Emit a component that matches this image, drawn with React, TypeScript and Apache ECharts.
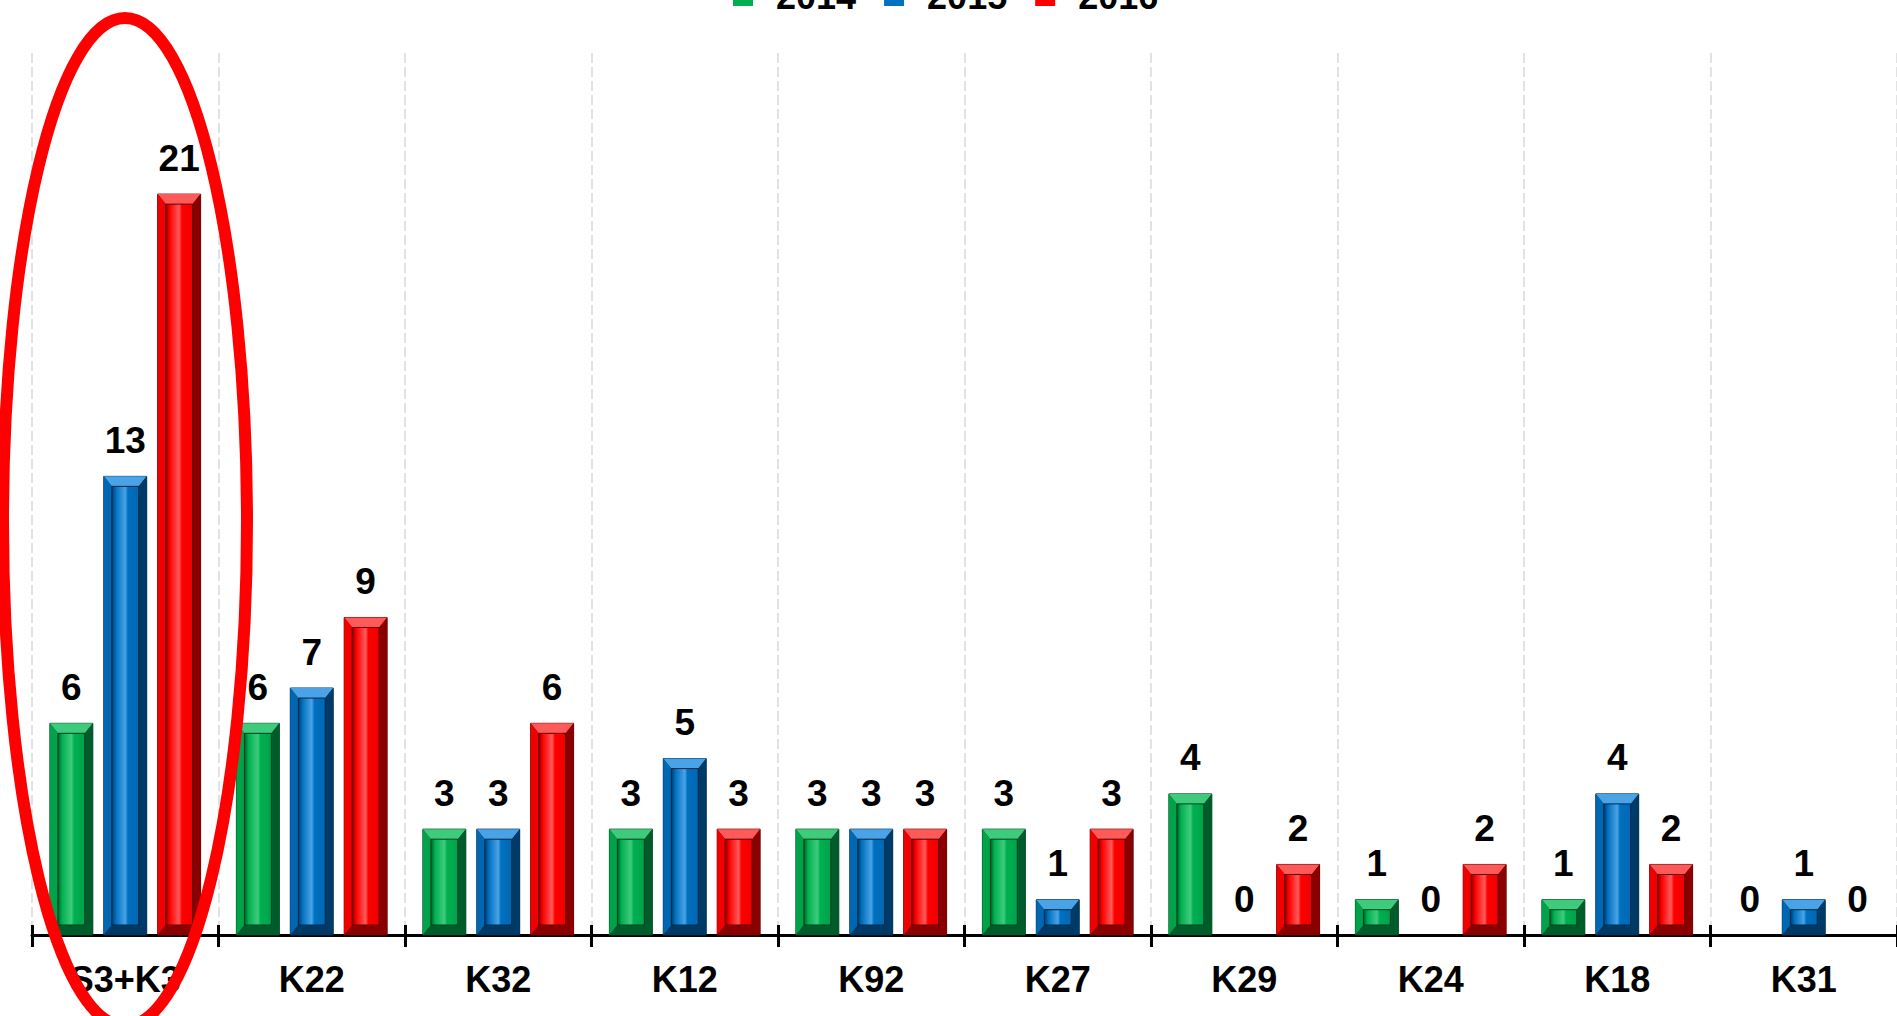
import React, { useEffect, useRef } from "react";
import * as echarts from "echarts";

const categories = ["S3+K3", "K22", "K32", "K12", "K92", "K27", "K29", "K24", "K18", "K31"];
const seriesNames = ["2014", "2015", "2016"];
const values2014 = [6, 6, 3, 3, 3, 3, 4, 1, 1, 0];
const values2015 = [13, 7, 3, 5, 3, 1, 0, 0, 4, 1];
const values2016 = [21, 9, 6, 3, 3, 3, 2, 2, 2, 0];

const palettes = [
  { main: "#00B050", light: "#3FCB7C", side: "#00A24A", dark: "#005C2A", line: "#00401D" },
  { main: "#0070C0", light: "#4AA3E6", side: "#0068B3", dark: "#003A66", line: "#002A4D" },
  { main: "#FF0000", light: "#FF5A5A", side: "#F00000", dark: "#8A0000", line: "#600000" },
];

const FONT = '"Liberation Sans", Arial, sans-serif';

function makeRender(i: number) {
  const p = palettes[i];
  return (params: any, api: any) => {
    const idx = api.value(0);
    const v = api.value(1);
    const top = api.coord([idx, v]);
    const base = api.coord([idx, 0]);
    const band = api.size([1, 0])[0];
    const bw = band * 0.23;
    const gap = band * 0.059;
    const cx = top[0] + (i - 1) * (bw + gap);
    const x0 = cx - bw / 2;
    const x1 = cx + bw / 2;
    const y0 = top[1];
    const y1 = base[1];
    const h = y1 - y0;
    const children: any[] = [];
    if (h > 0.5) {
      const b = Math.min(8, bw / 5);
      const bt = Math.min(10, h / 3);
      children.push({
        type: "rect",
        shape: { x: x0, y: y0, width: bw, height: h },
        style: { fill: p.dark, stroke: p.line, lineWidth: 1 },
      });
      children.push({
        type: "polygon",
        shape: { points: [[x0, y0], [x1, y0], [x1 - b, y0 + bt], [x0 + b, y0 + bt]] },
        style: { fill: p.light },
      });
      children.push({
        type: "polygon",
        shape: { points: [[x0, y0], [x0 + b, y0 + bt], [x0 + b, y1 - bt], [x0, y1]] },
        style: { fill: p.side },
      });
      children.push({
        type: "polygon",
        shape: { points: [[x1, y0], [x1, y1], [x1 - b, y1 - bt], [x1 - b, y0 + bt]] },
        style: { fill: p.dark },
      });
      children.push({
        type: "polygon",
        shape: { points: [[x0, y1], [x0 + b, y1 - bt], [x1 - b, y1 - bt], [x1, y1]] },
        style: { fill: p.dark, opacity: 0.85 },
      });
      children.push({
        type: "rect",
        shape: { x: x0 + b, y: y0 + bt, width: bw - 2 * b, height: Math.max(0, h - 2 * bt) },
        style: {
          fill: new echarts.graphic.LinearGradient(0, 0, 1, 0, [
            { offset: 0, color: p.dark },
            { offset: 0.15, color: p.main },
            { offset: 0.5, color: p.light },
            { offset: 0.6, color: p.main },
            { offset: 1, color: p.side },
          ]),
          stroke: p.line,
          lineWidth: 1,
        },
      });
    }
    children.push({
      type: "text",
      style: {
        text: String(v),
        x: cx,
        y: y0 - 36,
        align: "center",
        verticalAlign: "middle",
        fontSize: 37,
        fontWeight: "bold",
        fontFamily: FONT,
        fill: "#000",
      },
    });
    return { type: "group", children };
  };
}

export default function App() {
  const ref = useRef<HTMLDivElement>(null);
  useEffect(() => {
    if (!ref.current) return;
    const chart = echarts.init(ref.current, undefined, { renderer: "svg" });
    const allValues = [values2014, values2015, values2016];
    const option: any = {
      animation: false,
      backgroundColor: "#ffffff",
      legend: {
        data: seriesNames,
        left: 728,
        top: -27,
        icon: "rect",
        itemWidth: 20,
        itemHeight: 20,
        itemGap: 28,
        textStyle: {
          fontSize: 36,
          fontWeight: "bold",
          fontFamily: FONT,
          color: "#000",
          padding: [0, 0, 0, 18],
        },
      },
      grid: { left: 32, right: 0, top: 53, bottom: 81, containLabel: false },
      xAxis: [
        {
          type: "category",
          data: categories,
          position: "bottom",
          axisLine: { show: true, lineStyle: { color: "#000", width: 3 } },
          axisTick: { show: true, length: 12, lineStyle: { color: "#000", width: 3 } },
          axisLabel: {
            margin: 26,
            fontSize: 36,
            fontWeight: "bold",
            fontFamily: FONT,
            color: "#000",
            interval: 0,
          },
          splitLine: {
            show: true,
            lineStyle: { color: "#e2e2e2", width: 2, type: [10, 4] },
          },
        },
        {
          type: "category",
          data: categories,
          position: "bottom",
          axisLine: { show: false },
          axisTick: { show: true, inside: true, length: 10, lineStyle: { color: "#000", width: 3 } },
          axisLabel: { show: false },
          splitLine: { show: false },
        },
      ],
      yAxis: {
        type: "value",
        min: 0,
        max: 25,
        show: false,
        splitLine: { show: false },
      },
      series: seriesNames.map((name, i) => ({
        name,
        type: "custom",
        xAxisIndex: 0,
        itemStyle: { color: palettes[i].main },
        renderItem: makeRender(i),
        data: allValues[i].map((v, k) => [k, v]),
        clip: false,
      })),
      graphic: [
        {
          type: "ellipse",
          shape: { cx: 125, cy: 522, rx: 122, ry: 504 },
          style: { fill: "none", stroke: "#ff0000", lineWidth: 12 },
          z: 100,
        },
      ],
    };
    chart.setOption(option);
    return () => chart.dispose();
  }, []);
  return (
    <div
      ref={ref}
      style={{ position: "fixed", left: 0, top: 0, width: 1897, height: 1016 }}
    />
  );
}
